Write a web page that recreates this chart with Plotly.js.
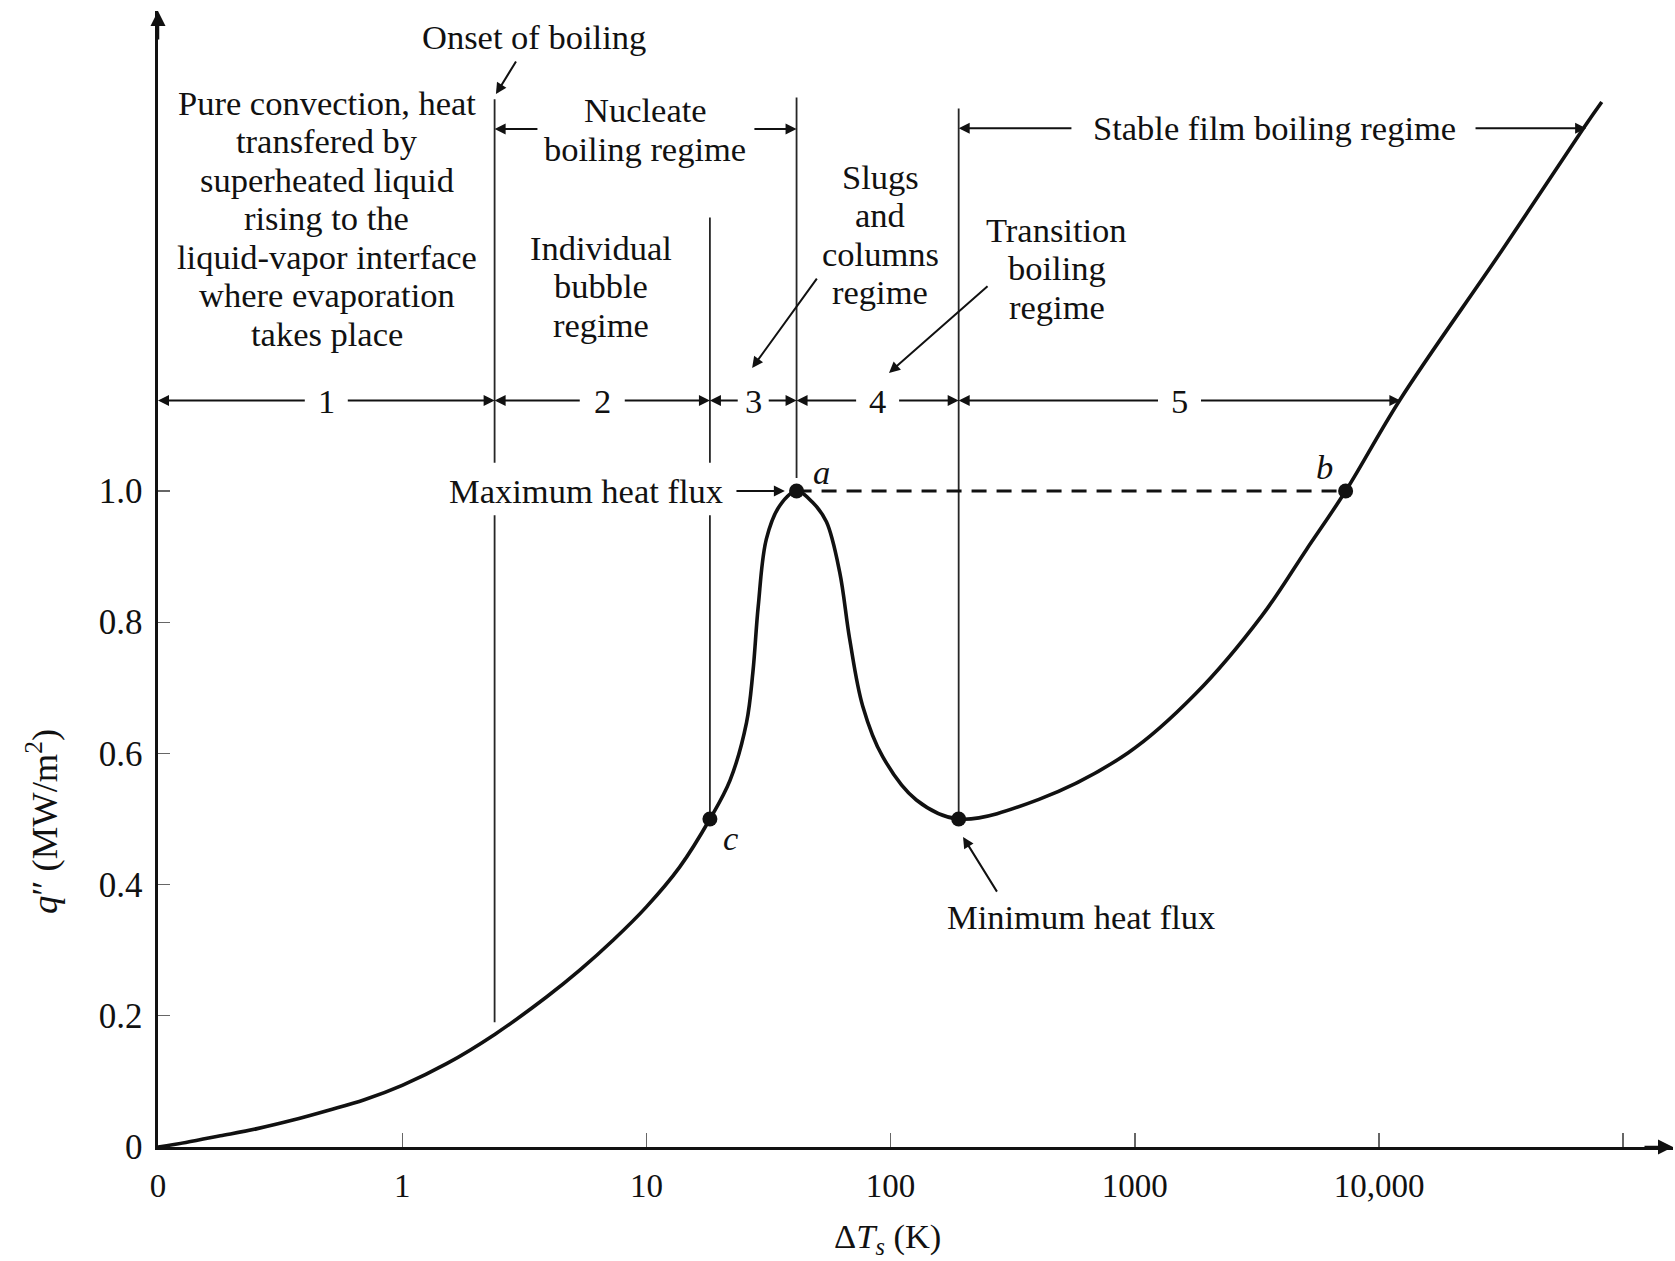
<!DOCTYPE html>
<html>
<head>
<meta charset="utf-8">
<script src="https://cdn.plot.ly/plotly-3.0.1.min.js"></script>
<style>
html,body{margin:0;padding:0;background:#fff;}
#chart{width:1675px;height:1261px;}
</style>
</head>
<body>
<div id="chart"></div>
<script>
// ---------- data ----------
// Excess temperature ΔT_s (K); the first value sits at the axis origin labelled "0"
const deltaT   = [0.1, 0.13, 0.18, 0.255, 0.357, 0.5, 0.7, 1, 1.52, 2.4, 3.91, 5.35, 7.32, 10.0, 13.7, 18.2,
                  22.0, 25.7, 27.3, 28.7, 31.0, 35.2, 41.2, 48.1, 54.6, 61.9, 68.0, 76.9, 92.8, 127.5, 190,
                  405, 940, 1766, 3318, 5050, 7300, 12230, 31900, 69300, 81700];
// Heat flux q'' (MW/m^2)
const heatFlux = [0, 0.007, 0.017, 0.028, 0.041, 0.056, 0.072, 0.094, 0.127, 0.172, 0.229, 0.270, 0.3155, 0.366, 0.427, 0.5,
                  0.559, 0.647, 0.724, 0.824, 0.927, 0.978, 1.0, 0.982, 0.953, 0.876, 0.774, 0.672, 0.595, 0.529, 0.5,
                  0.530, 0.601, 0.690, 0.810, 0.911, 1.0, 1.140, 1.367, 1.555, 1.593];

// Key points: a = maximum heat flux, b = same flux in film boiling, c = end of isolated bubbles, min = minimum heat flux
const pointNames = ['a', 'b', 'c', 'min'];
const pointDT    = [41.2, 7300, 18.2, 190];
const pointQ     = [1.0, 1.0, 0.5, 0.5];

// Regime boundaries along ΔT and regime numbers
const regimeEdges  = [0.1, 2.39, 18.2, 41.2, 190, 12230];
const regimeLabels = ['1', '2', '3', '4', '5'];

// Vertical boundary lines: ΔT, bottom q, top q
const boundaryDT  = [2.39, 18.2, 41.2, 190];
const boundaryLow = [0.19, 0.5, 1.02, 0.5];
const boundaryTop = [1.597, 1.417, 1.60, 1.583];

// Axis ticks
const xTickVals = [0.1, 1, 10, 100, 1000, 10000];
const xTickText = ['0', '1', '10', '100', '1000', '10,000'];
const xMinorTickVals = [100000];   // unlabelled tick near the arrow
const yTickVals = [0, 0.2, 0.4, 0.6, 0.8, 1.0];
const yTickText = ['0', '0.2', '0.4', '0.6', '0.8', '1.0'];

// ---------- layout geometry ----------
const W = 1675, H = 1261;
const M = {l: 158, r: 2, t: 11, b: 114};
const plotW = W - M.l - M.r, plotH = H - M.t - M.b;
const decadePx = 244.2;
const pxPerQ = 656;
const xRange = [-1, -1 + plotW / decadePx];
const yRange = [0, plotH / pxPerQ];

const FONT = 'Liberation Serif, Times New Roman, serif';
const INK = '#111111';
const FS = 34.5;
const L = Math.log10;

// text band where "Maximum heat flux" interrupts the left boundary lines
const breakLow = 0.963, breakHigh = 1.043;

// ---------- traces ----------
const traces = [];

// vertical boundary lines (the two left ones are interrupted by the "Maximum heat flux" label)
for (let i = 0; i < boundaryDT.length; i++) {
  const v = boundaryDT[i];
  let xs = [v, v], ys = [boundaryLow[i], boundaryTop[i]];
  if (boundaryLow[i] < breakLow && boundaryTop[i] > breakHigh && v < pointDT[0]) {
    xs = [v, v, null, v, v];
    ys = [boundaryLow[i], breakLow, null, breakHigh, boundaryTop[i]];
  }
  traces.push({
    type: 'scatter', mode: 'lines', x: xs, y: ys, connectgaps: false,
    line: {color: '#262626', width: 1.8}, hoverinfo: 'skip'
  });
}

// dashed line a–b at maximum heat flux
traces.push({
  type: 'scatter', mode: 'lines',
  x: [pointDT[0], pointDT[1]], y: [pointQ[0], pointQ[1]],
  line: {color: INK, width: 2.8, dash: '15px,10px'}, hoverinfo: 'skip'
});

// boiling curve
traces.push({
  type: 'scatter', mode: 'lines',
  x: deltaT, y: heatFlux,
  line: {color: INK, width: 3.6, shape: 'spline', smoothing: 1.0},
  hoverinfo: 'skip'
});

// key points
traces.push({
  type: 'scatter', mode: 'markers',
  x: pointDT, y: pointQ, text: pointNames,
  marker: {color: INK, size: 15}, cliponaxis: false, hoverinfo: 'skip'
});

// ---------- annotations ----------
const ann = [];
function text(s, dt, q, opt) {
  ann.push(Object.assign({
    xref: 'x', yref: 'y', x: L(dt), y: q, text: s, showarrow: false,
    xanchor: 'center', yanchor: 'middle',
    font: {family: FONT, size: FS, color: INK}
  }, opt || {}));
}
// multi-line label, one line per annotation, centred on qMid
function block(lines, dt, qMid, dq) {
  const top = qMid + (lines.length - 1) / 2 * dq;
  lines.forEach((s, i) => text(s, dt, top - i * dq));
}
function arrow(fromDT, fromQ, toDT, toQ, w) {
  ann.push({
    xref: 'x', yref: 'y', axref: 'x', ayref: 'y',
    x: L(toDT), y: toQ, ax: L(fromDT), ay: fromQ,
    text: '', showarrow: true, arrowhead: 2, arrowsize: 1.1,
    arrowwidth: w || 2, arrowcolor: INK, standoff: 0, startstandoff: 0,
    font: {size: 1}
  });
}

const DQ = 38.5 / pxPerQ; // line spacing of the multi-line labels

text('Onset of boiling', 3.47, 1.692);
arrow(2.95, 1.657, 2.42, 1.605);

block(['Pure convection, heat', 'transfered by', 'superheated liquid', 'rising to the',
       'liquid-vapor interface', 'where evaporation', 'takes place'], 0.492, 1.416, DQ);

block(['Nucleate', 'boiling regime'], 9.9, 1.5513, DQ);
arrow(3.63, 1.552, 2.39, 1.552);
arrow(27.3, 1.552, 41.2, 1.552);

block(['Individual', 'bubble', 'regime'], 6.52, 1.3125, DQ);

block(['Slugs', 'and', 'columns', 'regime'], 90.5, 1.391, DQ);
arrow(50.4, 1.326, 27.1, 1.1875);

block(['Transition', 'boiling', 'regime'], 480, 1.3397, DQ);
arrow(253, 1.314, 98.5, 1.180);

text('Stable film boiling regime', 3750, 1.553);
arrow(558, 1.553, 190, 1.553);
arrow(24500, 1.553, 70500, 1.553);

// regime number row with double arrows
const rowQ = 1.1378;
const gapPx = [20, 21, 14, 20, 20];
for (let i = 0; i < regimeLabels.length; i++) {
  const a = L(regimeEdges[i]), b = L(regimeEdges[i + 1]);
  const mid = (a + b) / 2, g = gapPx[i] / decadePx;
  text(regimeLabels[i], Math.pow(10, mid), rowQ);
  arrow(Math.pow(10, mid - g), rowQ, regimeEdges[i], rowQ);
  arrow(Math.pow(10, mid + g), rowQ, regimeEdges[i + 1], rowQ);
}

text('Maximum heat flux', 21.0, 1.0, {xanchor: 'right'});
arrow(23.05, 1.0, 36.9, 1.0);

text('<i>a</i>', 52.2, 1.029);
text('<i>b</i>', 5960, 1.037);
text('<i>c</i>', 22.0, 0.471);

text('Minimum heat flux', 603, 0.3506);
arrow(275, 0.387, 198, 0.4726);

// axis titles (paper coordinates)
ann.push({
  xref: 'paper', yref: 'paper', x: (887 - M.l) / plotW, y: -(1238 - (H - M.b)) / plotH,
  text: 'Δ<i>T</i><sub><i>s</i></sub> (K)', showarrow: false,
  xanchor: 'center', yanchor: 'middle', font: {family: FONT, size: FS, color: INK}
});
ann.push({
  xref: 'paper', yref: 'paper', x: (42 - M.l) / plotW, y: (H - M.b - 822) / plotH,
  text: '<i>q</i>″ (MW/m<sup>2</sup>)', showarrow: false, textangle: -90,
  xanchor: 'center', yanchor: 'middle', font: {family: FONT, size: 36.5, color: INK}
});

// axis arrowheads
ann.push({xref: 'paper', yref: 'paper', x: 1, y: 0, ax: -30, ay: 0, text: '', showarrow: true,
  arrowhead: 2, arrowsize: 1.2, arrowwidth: 2.5, arrowcolor: INK, standoff: 0, font: {size: 1}});
ann.push({xref: 'paper', yref: 'paper', x: 0, y: 1, ax: 0, ay: 30, text: '', showarrow: true,
  arrowhead: 2, arrowsize: 1.2, arrowwidth: 2.5, arrowcolor: INK, standoff: 0, font: {size: 1}});

const layout = {
  width: W, height: H,
  margin: {l: M.l, r: M.r, t: M.t, b: M.b, pad: 0},
  paper_bgcolor: '#ffffff', plot_bgcolor: '#ffffff',
  showlegend: false,
  font: {family: FONT, size: FS, color: INK},
  xaxis: {
    type: 'log', range: xRange, tickmode: 'array', tickvals: xTickVals, ticktext: xTickText,
    ticks: 'inside', ticklen: 14, tickwidth: 1.4, tickcolor: '#666',
    minor: {tickmode: 'array', tickvals: xMinorTickVals, ticks: 'inside', ticklen: 14,
            tickwidth: 1.4, tickcolor: '#666', showgrid: false},
    showline: true, linewidth: 2.6, linecolor: INK,
    showgrid: false, zeroline: false, ticklabelstandoff: 8,
    tickfont: {family: FONT, size: 33, color: INK}, fixedrange: true
  },
  yaxis: {
    range: yRange, tickmode: 'array', tickvals: yTickVals, ticktext: yTickText,
    ticks: 'inside', ticklen: 12, tickwidth: 1.4, tickcolor: '#666',
    showline: true, linewidth: 2.6, linecolor: INK,
    showgrid: false, zeroline: false, ticklabelstandoff: 6,
    tickfont: {family: FONT, size: 35, color: INK}, fixedrange: true
  },
  annotations: ann
};

Plotly.newPlot('chart', traces, layout, {staticPlot: true, displayModeBar: false});
</script>
</body>
</html>
